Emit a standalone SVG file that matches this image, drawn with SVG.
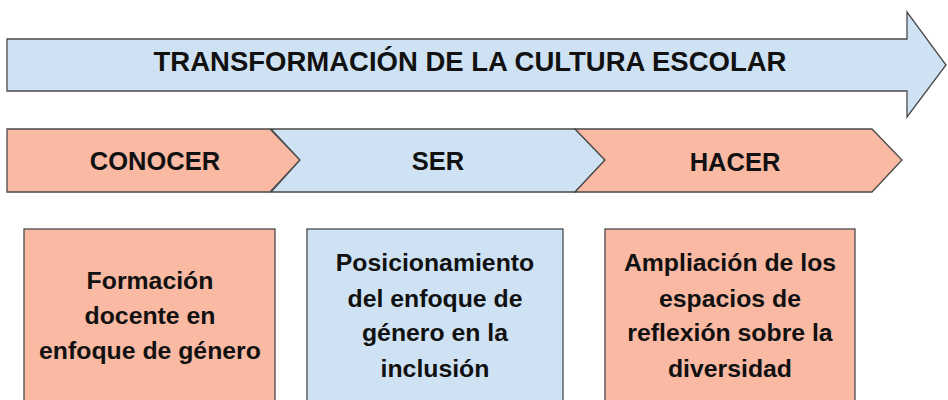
<svg xmlns="http://www.w3.org/2000/svg" width="948" height="400" viewBox="0 0 948 400">
<style>
.blue{fill:#cfe2f3;stroke:#4a4a4a;stroke-width:1.3}
.salmon{fill:#f9b9a3;stroke:#4a4a4a;stroke-width:1.3}
.t{font-family:"Liberation Sans",Arial,sans-serif;font-weight:bold;fill:#111;text-anchor:middle}
.h{font-size:27.5px}
.c{font-size:25.5px}
.b{font-size:24.8px}
</style>
<rect width="948" height="400" fill="#fff"/>
<g id="main-arrow">
<polygon class="blue" points="7,39 907,39 907,12 946,65 907,117 907,91 7,91"/>
<text class="t h" x="470" y="71">TRANSFORMACIÓN DE LA CULTURA ESCOLAR</text>
</g>
<g id="conocer">
<polygon class="salmon" points="7,129 270,129 300,160 270,192 7,192"/>
<text class="t c" x="155" y="170">CONOCER</text>
</g>
<g id="ser">
<polygon class="blue" points="271,129 575,129 605,160 575,192 271,192 300,160"/>
<text class="t c" x="438" y="170">SER</text>
</g>
<g id="hacer">
<polygon class="salmon" points="575,129 872,129 902,160 872,192 575,192 605,160"/>
<text class="t c" x="735" y="171">HACER</text>
</g>
<g id="box-formacion">
<rect class="salmon" x="24" y="229" width="251" height="190"/>
<text class="t b" x="150" y="289">Formación</text>
<text class="t b" x="150" y="324">docente en</text>
<text class="t b" x="150" y="359">enfoque de género</text>
</g>
<g id="box-posicionamiento">
<rect class="blue" x="307" y="229" width="256" height="190"/>
<text class="t b" x="435" y="271">Posicionamiento</text>
<text class="t b" x="435" y="307">del enfoque de</text>
<text class="t b" x="435" y="341">género en la</text>
<text class="t b" x="435" y="377">inclusión</text>
</g>
<g id="box-ampliacion">
<rect class="salmon" x="605" y="229" width="250" height="190"/>
<text class="t b" x="730" y="271">Ampliación de los</text>
<text class="t b" x="730" y="307">espacios de</text>
<text class="t b" x="730" y="341">reflexión sobre la</text>
<text class="t b" x="730" y="377">diversidad</text>
</g>
<g id="connectors"/>
</svg>
